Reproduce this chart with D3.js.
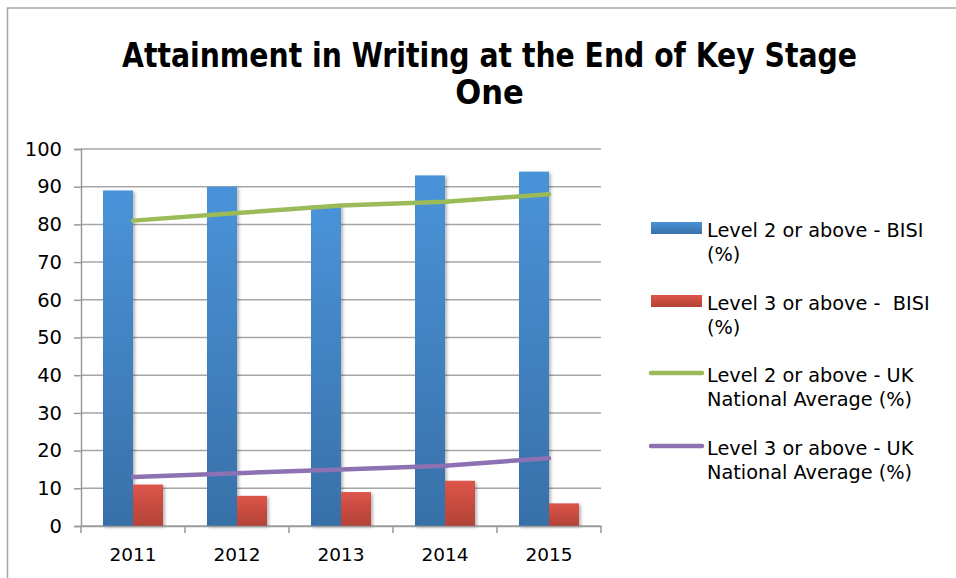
<!DOCTYPE html>
<html>
<head>
<meta charset="utf-8">
<script src="https://cdn.jsdelivr.net/npm/d3@7/dist/d3.min.js"></script>
<style>
  html, body { margin: 0; padding: 0; background: #fff; }
  svg { display: block; }
</style>
</head>
<body>
<svg id="chart" width="956" height="578"></svg>
<script>
// ---- data ----
const title = ["Attainment in Writing at the End of Key Stage", "One"];
const years = ["2011", "2012", "2013", "2014", "2015"];
const level2BISI = [89, 90, 85, 93, 94];
const level3BISI = [11, 8, 9, 12, 6];
const level2UK = [81, 83, 85, 86, 88];
const level3UK = [13, 14, 15, 16, 18];
const yTicks = [0, 10, 20, 30, 40, 50, 60, 70, 80, 90, 100];
const legendLabels = [
  ["Level 2 or above - BISI", "(%)"],
  ["Level 3 or above -  BISI", "(%)"],
  ["Level 2 or above - UK", "National Average (%)"],
  ["Level 3 or above - UK", "National Average (%)"]
];

const svg = d3.select("#chart");
const font = "'DejaVu Sans', Verdana, sans-serif";

// outer border
svg.append("rect").attr("x", 7.5).attr("y", 8).attr("width", 1000).attr("height", 1000)
  .attr("fill", "none").attr("stroke", "#a6a6a6").attr("stroke-width", 1.5);

// defs
const defs = svg.append("defs");
function grad(id, top, bottom) {
  const g = defs.append("linearGradient").attr("id", id).attr("x1", 0).attr("y1", 0).attr("x2", 0).attr("y2", 1);
  g.append("stop").attr("offset", "0%").attr("stop-color", top);
  g.append("stop").attr("offset", "100%").attr("stop-color", bottom);
}
grad("gBlue", "#4a93d9", "#3870a8");
grad("gRed", "#dd554a", "#b24236");
const f = defs.append("filter").attr("id", "shadow").attr("x", "-20%").attr("y", "-5%").attr("width", "150%").attr("height", "115%");
f.append("feDropShadow").attr("dx", 2).attr("dy", 1.5).attr("stdDeviation", 1.5)
  .attr("flood-color", "#000").attr("flood-opacity", 0.28);

// scales
const x = d3.scaleBand().domain(years).range([81, 601]).paddingInner(0).paddingOuter(0);
const bw = x.bandwidth();
const x1 = d3.scaleBand().domain(["l2", "l3"]).range([bw / 2 - 30, bw / 2 + 30]);
const y = d3.scaleLinear().domain([0, 100]).range([526, 149]);

// gridlines
svg.append("g").selectAll("line").data(yTicks).join("line")
  .attr("x1", 81).attr("x2", 601)
  .attr("y1", d => y(d)).attr("y2", d => y(d))
  .attr("stroke", "#a6a6a6").attr("stroke-width", 1.5);

// y axis
const yAxis = svg.append("g").attr("transform", "translate(81,0)")
  .call(d3.axisLeft(y).tickValues(yTicks).tickSize(7).tickPadding(12));
yAxis.select(".domain").attr("stroke", "#9a9a9a").attr("stroke-width", 1.5);
yAxis.selectAll(".tick line").attr("stroke", "#9a9a9a").attr("stroke-width", 1.5);
yAxis.selectAll(".tick text").attr("font-family", font).attr("font-size", 19.5).attr("fill", "#000");

// bars
const barData = years.map((yr, i) => ({ yr, l2: level2BISI[i], l3: level3BISI[i] }));
const groups = svg.append("g").selectAll("g").data(barData).join("g")
  .attr("transform", d => `translate(${x(d.yr)},0)`);
groups.append("rect").attr("filter", "url(#shadow)")
  .attr("x", x1("l2")).attr("width", x1.bandwidth())
  .attr("y", d => y(d.l2)).attr("height", d => y(0) - y(d.l2))
  .attr("fill", "url(#gBlue)");
groups.append("rect").attr("filter", "url(#shadow)")
  .attr("x", x1("l3")).attr("width", x1.bandwidth())
  .attr("y", d => y(d.l3)).attr("height", d => y(0) - y(d.l3))
  .attr("fill", "url(#gRed)");

// x axis
const xAxis = svg.append("g").attr("transform", "translate(0,526)")
  .call(d3.axisBottom(x).tickSize(0).tickPadding(22));
xAxis.select(".domain").attr("stroke", "#9a9a9a").attr("stroke-width", 1.5);
xAxis.selectAll(".tick text").attr("font-family", font).attr("font-size", 18.5).attr("fill", "#000");
// boundary tick marks
xAxis.append("g").selectAll("line").data(years.concat(["__end"])).join("line")
  .attr("x1", d => d === "__end" ? x.range()[1] : x(d))
  .attr("x2", d => d === "__end" ? x.range()[1] : x(d))
  .attr("y1", 0).attr("y2", 7)
  .attr("stroke", "#9a9a9a").attr("stroke-width", 1.5);

// lines
const line = d3.line().x(d => x(d[0]) + bw / 2).y(d => y(d[1]));
svg.append("path").datum(years.map((yr, i) => [yr, level2UK[i]]))
  .attr("d", line).attr("fill", "none").attr("stroke", "#9bbb59")
  .attr("stroke-width", 4.5).attr("stroke-linecap", "round").attr("stroke-linejoin", "round");
svg.append("path").datum(years.map((yr, i) => [yr, level3UK[i]]))
  .attr("d", line).attr("fill", "none").attr("stroke", "#8c72b2")
  .attr("stroke-width", 4.5).attr("stroke-linecap", "round").attr("stroke-linejoin", "round");

// title
const t = svg.append("text").attr("font-family", "'DejaVu Sans Condensed', 'DejaVu Sans', sans-serif")
  .attr("font-weight", "bold").attr("font-size", 34).attr("text-anchor", "middle").attr("fill", "#000");
t.append("tspan").attr("x", 489.5).attr("y", 67).text(title[0]);
t.append("tspan").attr("x", 489.5).attr("y", 104).text(title[1]);
const sp = t.select("tspan").node();
if (sp.getComputedTextLength() > 0) {
  t.select("tspan").attr("textLength", 735).attr("lengthAdjust", "spacingAndGlyphs");
}

// legend
const legendTop = [228, 301, 373, 446];
const lg = svg.append("g");
const types = ["rect", "rect", "line", "line"];
const fills = ["url(#gBlue)", "url(#gRed)", "#9bbb59", "#8c72b2"];
legendLabels.forEach((lbl, i) => {
  const cy = legendTop[i];
  if (types[i] === "rect") {
    lg.append("rect").attr("x", 651).attr("y", cy - 6).attr("width", 51).attr("height", 12)
      .attr("fill", fills[i]);
  } else {
    lg.append("line").attr("x1", 651).attr("x2", 702).attr("y1", cy).attr("y2", cy)
      .attr("stroke", fills[i]).attr("stroke-width", 4.5).attr("stroke-linecap", "round");
  }
  const tx = lg.append("text").attr("font-family", font).attr("font-size", 19.3).attr("fill", "#000")
    .attr("xml:space", "preserve");
  tx.append("tspan").attr("x", 707).attr("y", cy + 8.5).text(lbl[0]);
  tx.append("tspan").attr("x", 707).attr("y", cy + 8.5 + 24.5).text(lbl[1]);
});
</script>
</body>
</html>
